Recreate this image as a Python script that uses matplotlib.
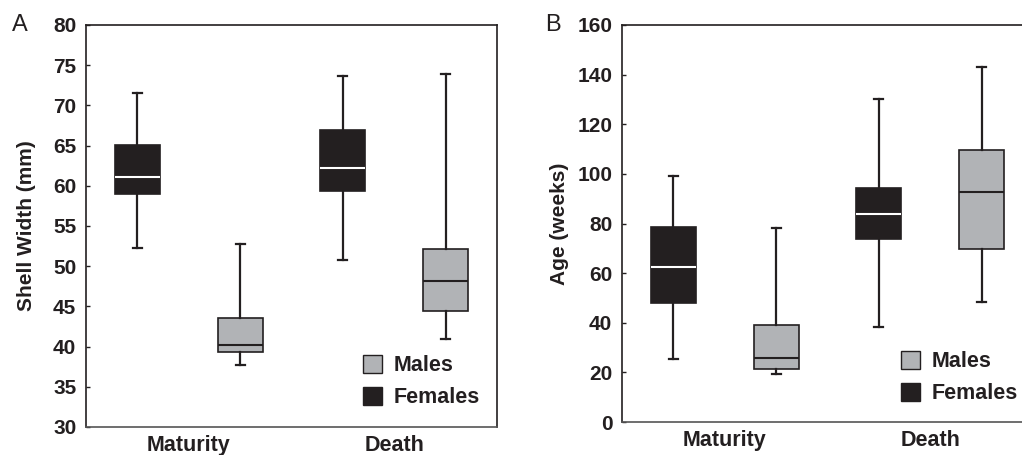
import matplotlib.pyplot as plt
from matplotlib.patches import Patch

plt.rcParams['font.family'] = ['Liberation Sans', 'DejaVu Sans']

DARK = '#231f20'
GREY = '#b1b3b6'

groups = ['Maturity', 'Death']

# Panel A: shell width (mm), order: F-Maturity, M-Maturity, F-Death, M-Death
width_low = [52.3, 37.7, 50.8, 41.0]
width_q1 = [59.0, 39.3, 59.3, 44.4]
width_med = [61.1, 40.2, 62.2, 48.1]
width_q3 = [65.1, 43.6, 67.0, 52.2]
width_high = [71.6, 52.8, 73.7, 73.9]

# Panel B: age (weeks)
age_low = [25.3, 19.2, 38.2, 48.2]
age_q1 = [47.8, 21.4, 73.7, 69.9]
age_med = [62.3, 25.7, 83.7, 92.7]
age_q3 = [78.7, 38.9, 94.3, 109.5]
age_high = [99.2, 78.1, 130.1, 143.1]

box_sex = ['Females', 'Males', 'Females', 'Males']
positions = [0.5, 1.5, 2.5, 3.5]


def draw_panel(ax, low, q1, med, q3, high, ylim, yticks, ylabel, labelpad, leg_xy):
    for i in range(4):
        stats = [dict(whislo=low[i], q1=q1[i], med=med[i], q3=q3[i],
                      whishi=high[i], fliers=[])]
        female = box_sex[i] == 'Females'
        ax.bxp(stats, positions=[positions[i]], widths=0.44, patch_artist=True,
               showfliers=False,
               boxprops=dict(facecolor=DARK if female else GREY,
                             edgecolor=DARK, linewidth=1.2),
               medianprops=dict(color='white' if female else DARK, linewidth=1.5),
               whiskerprops=dict(color=DARK, linewidth=1.6),
               capprops=dict(color=DARK, linewidth=1.6),
               capwidths=0.09, zorder=3)
    ax.set_xlim(0, 4)
    ax.set_ylim(*ylim)
    ax.set_yticks(yticks)
    ax.set_xticks([1, 3])
    ax.set_xticklabels(groups, fontsize=15.5, fontweight='bold', color=DARK)
    ax.tick_params(axis='x', length=0, pad=6)
    ax.tick_params(axis='y', direction='in', length=3, width=1, color=DARK,
                   labelsize=15, pad=7, labelcolor=DARK)
    for lbl in ax.get_yticklabels():
        lbl.set_fontweight('bold')
    for s in ax.spines.values():
        s.set_color(DARK)
        s.set_linewidth(1.2)
    ax.spines['bottom'].set_color('#555555')
    ax.set_ylabel(ylabel, fontsize=15, fontweight='bold', color=DARK,
                  labelpad=labelpad)
    handles = [Patch(facecolor=GREY, edgecolor=DARK, label='Males'),
               Patch(facecolor=DARK, edgecolor=DARK, label='Females')]
    ax.legend(handles=handles, loc='upper left', bbox_to_anchor=leg_xy,
              frameon=False, borderpad=0, borderaxespad=0,
              handlelength=0.9, handleheight=0.9,
              handletextpad=0.5, labelspacing=0.5,
              prop=dict(size=15.5, weight='bold'), labelcolor=DARK)


fig = plt.figure(figsize=(10.22, 4.55), dpi=100)
W, H = 1022, 455
axA = fig.add_axes([86 / W, (H - 427) / H, 411 / W, 402 / H])
axB = fig.add_axes([622 / W, (H - 422) / H, 411 / W, 397 / H])

draw_panel(axA, width_low, width_q1, width_med, width_q3, width_high,
           (30, 80), range(30, 81, 5), 'Shell Width (mm)', 12, (0.674, 0.18))
draw_panel(axB, age_low, age_q1, age_med, age_q3, age_high,
           (0, 160), range(0, 161, 20), 'Age (weeks)', 6, (0.679, 0.1795))

fig.text(20 / W, 1 - 25 / H, 'A', fontsize=17, color=DARK, ha='center', va='center')
fig.text(553 / W, 1 - 25 / H, 'B', fontsize=17, color=DARK, ha='center', va='center')

fig.savefig('out.png', dpi=100)
